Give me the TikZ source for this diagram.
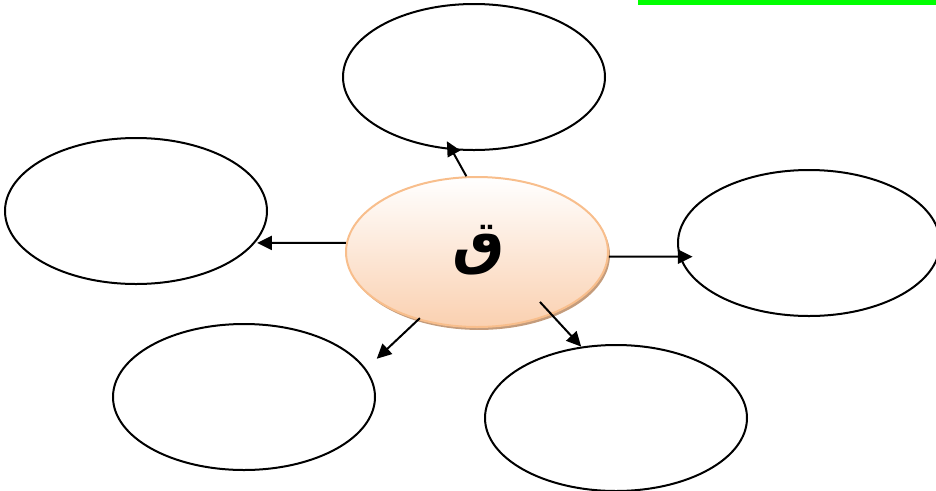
\documentclass[tikz,border=0pt]{standalone}
\usepackage{fontspec}
\usetikzlibrary{arrows.meta,shapes.geometric,shadows}
\TeXXeTstate=1
\newfontfamily\arabicfont[Script=Arabic]{DejaVu Sans}
\definecolor{hubtop}{RGB}{255,255,255}
\definecolor{hubbottom}{RGB}{250,208,176}
\definecolor{hubedge}{RGB}{248,190,140}
\definecolor{hubshadow}{RGB}{196,156,124}
\definecolor{markgreen}{RGB}{0,255,0}

\begin{document}
\begin{tikzpicture}[x=0.75pt,y=-0.75pt]
\tikzset{
  bubble/.style={ellipse,draw=black,line width=1.5pt,fill=white,minimum width=196.5pt,minimum height=109.5pt,inner sep=0pt},
  hub/.style={ellipse,draw=hubedge,line width=1.5pt,top color=hubtop,bottom color=hubbottom,minimum width=196.5pt,minimum height=112.5pt,inner sep=0pt,
    drop shadow={shadow xshift=1.5pt,shadow yshift=-2.2pt,fill=hubshadow,opacity=1}},
  link/.style={draw=black,line width=1.5pt,-{Triangle[length=11pt,width=10.5pt]}}
}
\useasboundingbox (0,0) rectangle (936,490);
\fill[markgreen] (638,0) rectangle (936,5);
\node[bubble] (n_top) at (474,77) {};
\node[bubble] (n_left) at (136,211) {};
\node[bubble] (n_right) at (809,243) {};
\node[bubble] (n_botleft) at (244,397) {};
\node[bubble] (n_botright) at (616,418) {};
\node[hub] (n_qaf) at (477,252) {};
\node at (479,250) {\fontsize{44}{44}\selectfont\arabicfont\bfseries\beginR ق\endR};
\draw[link,shorten >=-7.5pt] (n_qaf.98.5) -- (n_top.253.8);
\draw[link,shorten >=1.5pt] (n_qaf.176.5) -- (n_left.-15.8);
\draw[link,shorten >=-10pt] (n_qaf.-2.2) -- (n_right.186.3);
\draw[link,shorten >=11pt,shorten <=-2pt] (n_qaf.229.3) -- (n_botleft.13.6);
\draw[link,shorten <=-13pt] (n_qaf.-40) -- (n_botright.116.9);
\end{tikzpicture}
\end{document}
